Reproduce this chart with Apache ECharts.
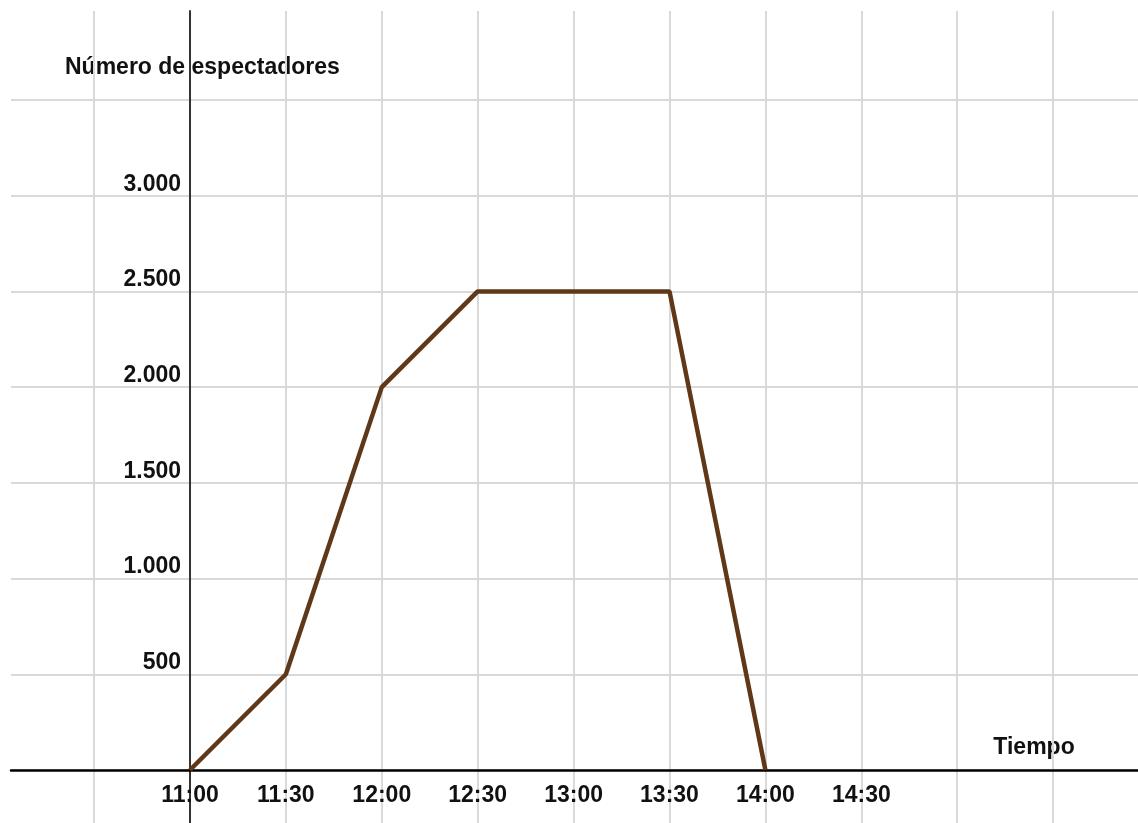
<!DOCTYPE html>
<html>
<head>
<meta charset="utf-8">
<title>Número de espectadores</title>
<script src="https://cdn.jsdelivr.net/npm/echarts@6/dist/echarts.min.js"></script>
<style>
  html, body { margin: 0; padding: 0; background: #fff; }
  #chart { width: 1138px; height: 823px; }
</style>
</head>
<body>
<div id="chart"></div>
<script>
// data
const timeLabels = ['11:00', '11:30', '12:00', '12:30', '13:00', '13:30', '14:00', '14:30'];
const timeIndex = [0, 1, 2, 3, 4, 5, 6];
const spectators = [0, 500, 2000, 2500, 2500, 2500, 0];
const yTickValues = [500, 1000, 1500, 2000, 2500, 3000];

const font = "'Liberation Sans', Arial, sans-serif";

let chart = echarts.init(document.getElementById('chart'));

function fmtThousands(v) {
  return String(v).replace(/\B(?=(\d{3})+(?!\d))/g, '.');
}

let option = {
  animation: false,
  backgroundColor: '#fff',
  grid: {
    left: 11,
    right: 0,
    top: 11,
    bottom: 0,
    outerBoundsMode: 'none'
  },
  xAxis: {
    type: 'value',
    // grid runs a bit past the half-hour lines on both sides
    min: -1.866,
    max: 9.885,
    splitNumber: 12,
    minInterval: 1,
    maxInterval: 1,
    // axis drawn at value 0 of y (53px above the bottom edge)
    offset: -53,
    axisLine: { onZero: false, lineStyle: { color: '#000', width: 2.5 } },
    axisTick: { show: false },
    splitLine: { showMinLine: false, showMaxLine: false, lineStyle: { color: '#d9d9d9', width: 2 } },
    axisLabel: {
      margin: 14,
      fontFamily: font,
      fontWeight: 'bold',
      fontSize: 23,
      lineHeight: 23,
      color: '#111',
      formatter: function (v) {
        return Number.isInteger(v) && v >= 0 && v < timeLabels.length ? timeLabels[v] : '';
      }
    }
  },
  yAxis: {
    type: 'value',
    min: -277,
    max: 3965,
    splitNumber: 8,
    minInterval: 500,
    maxInterval: 500,
    // axis drawn at 11:00 (179px right of the left edge)
    offset: -179,
    axisLine: { onZero: false, lineStyle: { color: '#333', width: 2 } },
    axisTick: { show: false },
    splitLine: { showMinLine: false, showMaxLine: false, lineStyle: { color: '#d9d9d9', width: 2 } },
    axisLabel: {
      margin: 9,
      fontFamily: font,
      fontWeight: 'bold',
      fontSize: 23,
      lineHeight: 23,
      verticalAlign: 'bottom',
      color: '#111',
      formatter: function (v) {
        return yTickValues.indexOf(v) >= 0 ? fmtThousands(v) : '';
      }
    }
  },
  graphic: [
    {
      type: 'text', x: 65, y: 68,
      style: {
        text: 'Número de espectadores', fill: '#111',
        font: 'bold 23px ' + font, verticalAlign: 'middle'
      }
    },
    {
      type: 'text', x: 1034, y: 748,
      style: {
        text: 'Tiempo', fill: '#111',
        font: 'bold 23px ' + font, align: 'center', verticalAlign: 'middle'
      }
    }
  ],
  series: [
    {
      type: 'line',
      data: timeIndex.map((t, i) => [t, spectators[i]]),
      symbol: 'none',
      clip: false,
      z: 5,
      lineStyle: { color: '#5e3818', width: 4.5 }
    }
  ]
};

chart.setOption(option);
</script>
</body>
</html>
